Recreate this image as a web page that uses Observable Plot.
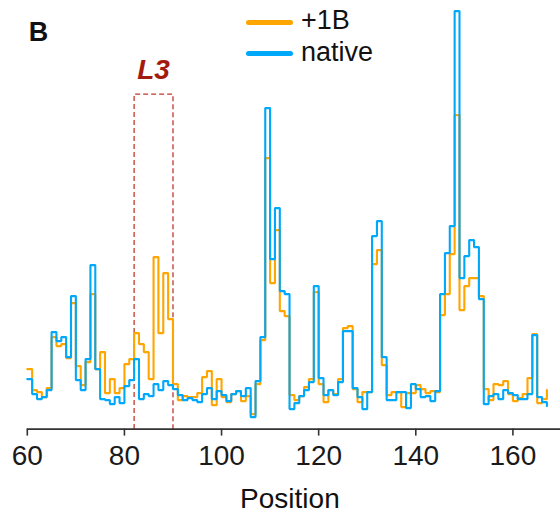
<!DOCTYPE html>
<html><head><meta charset="utf-8">
<script src="https://cdn.jsdelivr.net/npm/d3@7"></script>
<script src="https://cdn.jsdelivr.net/npm/@observablehq/plot@0.6"></script>
<style>
body{margin:0;background:#fff;font-family:"Liberation Sans",Arial,sans-serif;}
#wrap{position:relative;width:560px;height:513px;overflow:hidden;}
.legline{position:absolute;left:246px;width:47px;height:5px;border-radius:3px;}
.legtext{position:absolute;left:301px;font-size:27px;line-height:27px;color:#111;white-space:nowrap;}
</style></head><body><div id="wrap"></div>
<script>
// Positions 60..167 (one value per nucleotide position)
const firstPosition = 60;
const lastPosition = 167;
const nativeValues = [
  0.50,0.35,0.30,0.32,0.39,0.97,0.88,0.92,0.72,1.33, // 60-69
  0.49,0.39,0.70,1.64,0.60,0.30,0.29,0.25,0.32,0.26, // 70-79
  0.43,0.49,0.70,0.30,0.35,0.33,0.45,0.39,0.48,0.44, // 80-89
  0.40,0.34,0.29,0.31,0.29,0.27,0.35,0.41,0.30,0.38, // 90-99
  0.34,0.28,0.35,0.38,0.33,0.41,0.12,0.48,0.92,3.21, // 100-109
  1.70,2.21,1.38,1.35,0.20,0.26,0.33,0.39,0.47,1.43, // 110-119
  0.51,0.34,0.39,0.34,0.47,0.98,0.98,0.41,0.32,0.20, // 120-129
  0.37,1.93,2.08,0.72,0.29,0.29,0.37,0.37,0.21,0.45, // 130-139
  0.40,0.32,0.33,0.28,0.38,1.35,1.76,2.03,4.18,1.51, // 140-149
  1.73,1.89,1.82,1.30,0.25,0.33,0.35,0.30,0.39,0.36, // 150-159
  0.34,0.30,0.30,0.35,0.94,0.32,0.27,0.23           // 160-167
];
const plus1BValues = [
  0.60,0.39,0.37,0.32,0.41,0.92,0.83,0.85,0.71,1.26, // 60-69
  0.63,0.44,0.67,1.35,0.60,0.77,0.36,0.50,0.36,0.41, // 70-79
  0.65,0.70,0.96,0.85,0.77,0.50,1.72,0.96,1.56,1.10, // 80-89
  0.45,0.29,0.33,0.32,0.32,0.36,0.52,0.58,0.24,0.50, // 90-99
  0.32,0.27,0.35,0.38,0.28,0.33,0.15,0.45,0.89,2.71, // 100-109
  1.46,1.99,1.18,1.13,0.34,0.29,0.33,0.42,0.50,1.37, // 110-119
  0.45,0.27,0.39,0.35,0.50,1.01,1.03,0.40,0.27,0.37, // 120-129
  0.37,1.65,1.79,0.64,0.34,0.37,0.37,0.22,0.36,0.36, // 130-139
  0.44,0.40,0.36,0.38,0.37,1.14,1.35,1.75,3.14,1.19, // 140-149
  1.43,1.51,1.51,1.33,0.40,0.29,0.45,0.44,0.48,0.35, // 150-159
  0.28,0.31,0.35,0.51,0.95,0.26,0.30,0.39           // 160-167
];
const xTicks = [60, 80, 100, 120, 140, 160];
const seriesNames = ["+1B", "native"];
const seriesColors = ["#FFA500", "#00A8FA"];
const l3Start = 82, l3End = 90, l3Top = 3.35;
const l3Label = "L3";

const positions = d3.range(firstPosition, lastPosition + 1);
const plusRows = positions.map((p, i) => ({position: p, value: plus1BValues[i]}));
const nativeRows = positions.map((p, i) => ({position: p, value: nativeValues[i]}));
const boxRows = [
  {position: l3Start, value: 0}, {position: l3Start, value: l3Top},
  {position: l3End, value: l3Top}, {position: l3End, value: 0}
];
const labelRows = [{position: (l3Start + l3End) / 2, value: l3Top, text: l3Label}];

const chart = Plot.plot({
  width: 560, height: 513,
  marginLeft: 26.8, marginRight: 0, marginTop: 8.6, marginBottom: 84.4,
  x: {domain: [60, 169.8]},
  y: {domain: [0, 4.2], axis: null},
  style: {fontFamily: "'Liberation Sans', Arial, sans-serif", color: "#1a1a1a", background: "#fff", overflow: "visible"},
  marks: [
    Plot.line(boxRows, {x: "position", y: "value", stroke: "#BC3A2C", strokeWidth: 1.3, strokeDasharray: "5,3", strokeLinejoin: "miter", strokeLinecap: "butt"}),
    Plot.text(labelRows, {x: "position", y: "value", text: "text", dy: -15.5, lineAnchor: "bottom", fontSize: 28, fontWeight: "bold", fontStyle: "italic", fill: "#A31B0C"}),
    Plot.line(plusRows, {x: "position", y: "value", curve: "step-after", stroke: seriesColors[0], strokeWidth: 2.1, strokeLinejoin: "miter"}),
    Plot.line(nativeRows, {x: "position", y: "value", curve: "step-after", stroke: seriesColors[1], strokeWidth: 2.1, strokeLinejoin: "miter"}),
    Plot.ruleY([0], {stroke: "#333", strokeWidth: 1.6}),
    Plot.axisX({ticks: xTicks, tickSize: 7, tickPadding: 9, fontSize: 28, label: null, strokeWidth: 1.6, stroke: "#333"}),
    Plot.text(["Position"], {frameAnchor: "bottom", dx: -4, dy: 78.4, lineAnchor: "bottom", fontSize: 28, fill: "#111"}),
    Plot.text(["B"], {frameAnchor: "top-left", dx: 1.5, dy: 32, lineAnchor: "bottom", textAnchor: "start", fontSize: 27, fontWeight: "bold", fill: "#111"})
  ]
});
const wrap = document.getElementById("wrap");
wrap.appendChild(chart);

// legend overlay
const legendTops = [19.8, 50.8];
const textTops = [7.2, 38.8];
seriesNames.forEach((name, i) => {
  const ln = document.createElement("div");
  ln.className = "legline";
  ln.style.top = legendTops[i] + "px";
  ln.style.background = seriesColors[i];
  wrap.appendChild(ln);
  const tx = document.createElement("div");
  tx.className = "legtext";
  tx.style.top = textTops[i] + "px";
  tx.textContent = name;
  wrap.appendChild(tx);
});
</script></body></html>
